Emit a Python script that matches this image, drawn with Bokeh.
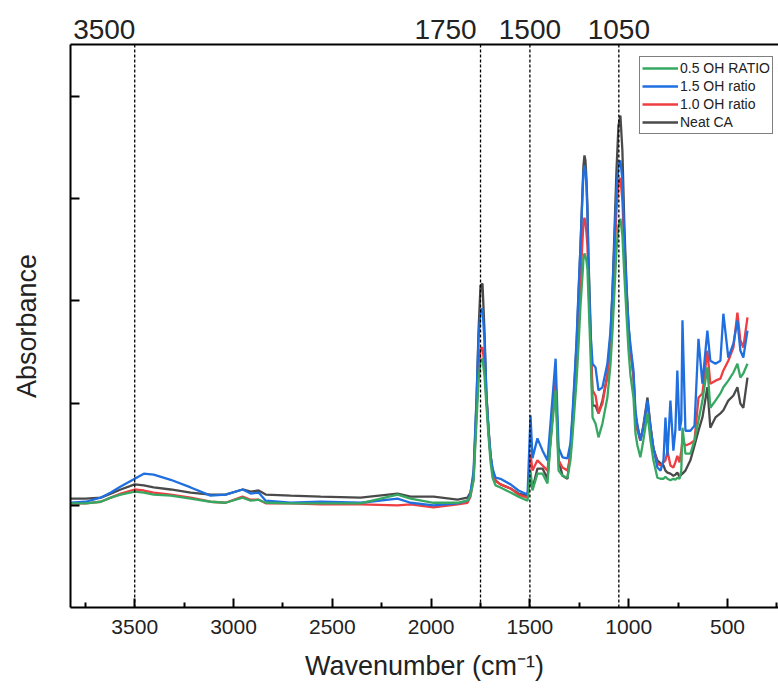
from bokeh.plotting import figure
from bokeh.models import (Range1d, LinearAxis, FixedTicker, Span, Legend, LegendItem,
                          CustomLabelingPolicy)
from bokeh.embed import file_html
from bokeh.resources import INLINE

wavenumber = [3824, 3748, 3672, 3621, 3571, 3500, 3454, 3404, 3318, 3217,
              3116, 3040, 2954, 2913, 2873, 2837, 2711, 2559, 2357, 2170,
              2104, 1988, 1866, 1816, 1801,
              1785, 1770, 1760, 1750, 1740, 1730, 1720, 1709, 1699, 1689, 1674,
              1649, 1598, 1558, 1512, 1497, 1487, 1462, 1436, 1411, 1396, 1370, 1355, 1335, 1310,
              1295, 1285, 1275, 1264, 1254, 1244, 1234, 1229, 1224, 1219, 1214, 1209, 1204, 1194, 1183,
              1168, 1153, 1133, 1108,
              1092, 1082, 1072, 1062, 1052, 1042, 1032, 1022, 1011, 1001, 991, 976, 966, 956, 941,
              926, 905, 890, 875, 855, 839, 824, 814, 804, 789, 774, 764, 754, 743, 734, 728,
              713, 688, 667, 647, 627, 602, 587, 561, 536, 521, 496, 470, 450, 435, 420, 399]

neat_ca = [0.213, 0.213, 0.215, 0.223, 0.231, 0.241, 0.239, 0.235, 0.231, 0.225,
           0.221, 0.221, 0.231, 0.227, 0.229, 0.221, 0.219, 0.217, 0.215, 0.223,
           0.217, 0.217, 0.211, 0.215, 0.225,
           0.258, 0.405, 0.542, 0.630, 0.634, 0.542, 0.415, 0.346, 0.297, 0.268, 0.249,
           0.241, 0.233, 0.223, 0.219, 0.254, 0.233, 0.272, 0.272, 0.252, 0.327, 0.444, 0.288, 0.258, 0.252,
           0.307, 0.366, 0.434, 0.513, 0.611, 0.708, 0.816, 0.865, 0.885, 0.875, 0.840, 0.787, 0.689, 0.562, 0.395,
           0.395, 0.380, 0.405, 0.454,
           0.532, 0.620, 0.738, 0.855, 0.943, 0.963, 0.894, 0.748, 0.630, 0.552, 0.503, 0.454, 0.376, 0.356, 0.327,
           0.356, 0.411, 0.356, 0.311, 0.288, 0.282, 0.278, 0.268, 0.264, 0.262, 0.258, 0.260, 0.264, 0.256, 0.260, 0.262,
           0.268, 0.288, 0.317, 0.346, 0.372, 0.431, 0.352, 0.372, 0.380, 0.386, 0.405, 0.415, 0.431, 0.399, 0.391, 0.450]

oh_1_0 = [0.204, 0.204, 0.207, 0.215, 0.223, 0.231, 0.229, 0.225, 0.221, 0.215,
          0.207, 0.205, 0.217, 0.211, 0.211, 0.204, 0.204, 0.202, 0.202, 0.200,
          0.202, 0.196, 0.202, 0.205, 0.217,
          0.252, 0.386, 0.464, 0.507, 0.509, 0.474, 0.409, 0.342, 0.294, 0.268, 0.247,
          0.241, 0.233, 0.221, 0.215, 0.301, 0.268, 0.288, 0.278, 0.268, 0.327, 0.448, 0.288, 0.274, 0.268,
          0.297, 0.350, 0.415, 0.483, 0.562, 0.640, 0.718, 0.753, 0.763, 0.753, 0.734, 0.708, 0.640, 0.532, 0.425,
          0.415, 0.380, 0.399, 0.454,
          0.523, 0.591, 0.679, 0.777, 0.832, 0.841, 0.796, 0.699, 0.611, 0.542, 0.503, 0.454, 0.366, 0.346, 0.327,
          0.352, 0.401, 0.352, 0.311, 0.282, 0.278, 0.284, 0.288, 0.307, 0.278, 0.274, 0.284, 0.297, 0.284, 0.307, 0.327,
          0.317, 0.321, 0.327, 0.411, 0.419, 0.503, 0.438, 0.444, 0.448, 0.464, 0.483, 0.509, 0.577, 0.523, 0.509, 0.568]

oh_1_5 = [0.205, 0.207, 0.215, 0.225, 0.237, 0.252, 0.262, 0.260, 0.250, 0.235,
          0.219, 0.221, 0.231, 0.223, 0.225, 0.209, 0.205, 0.207, 0.205, 0.213,
          0.205, 0.200, 0.204, 0.209, 0.223,
          0.268, 0.411, 0.528, 0.581, 0.585, 0.523, 0.415, 0.346, 0.297, 0.272, 0.254,
          0.252, 0.241, 0.229, 0.221, 0.376, 0.292, 0.331, 0.307, 0.288, 0.360, 0.487, 0.313, 0.294, 0.292,
          0.321, 0.376, 0.444, 0.523, 0.620, 0.708, 0.806, 0.851, 0.865, 0.855, 0.826, 0.771, 0.679, 0.542, 0.477,
          0.470, 0.425, 0.431, 0.477,
          0.542, 0.620, 0.718, 0.816, 0.865, 0.875, 0.836, 0.718, 0.620, 0.552, 0.513, 0.464, 0.386, 0.356, 0.327,
          0.352, 0.405, 0.352, 0.313, 0.274, 0.268, 0.288, 0.372, 0.297, 0.405, 0.307, 0.346, 0.464, 0.346, 0.366, 0.562,
          0.346, 0.346, 0.356, 0.526, 0.438, 0.542, 0.483, 0.477, 0.483, 0.575, 0.489, 0.517, 0.562, 0.503, 0.489, 0.542]

oh_0_5 = [0.204, 0.204, 0.207, 0.215, 0.221, 0.227, 0.225, 0.221, 0.219, 0.213,
          0.207, 0.205, 0.215, 0.209, 0.211, 0.205, 0.204, 0.204, 0.204, 0.221,
          0.213, 0.205, 0.205, 0.209, 0.219,
          0.249, 0.366, 0.444, 0.483, 0.487, 0.454, 0.395, 0.333, 0.284, 0.254, 0.239,
          0.235, 0.225, 0.217, 0.209, 0.268, 0.229, 0.262, 0.262, 0.243, 0.321, 0.425, 0.268, 0.258, 0.254,
          0.288, 0.333, 0.386, 0.444, 0.513, 0.591, 0.650, 0.683, 0.693, 0.687, 0.679, 0.663, 0.611, 0.503, 0.372,
          0.360, 0.333, 0.360, 0.411,
          0.477, 0.542, 0.620, 0.699, 0.748, 0.761, 0.728, 0.650, 0.571, 0.503, 0.454, 0.411, 0.341, 0.317, 0.294,
          0.327, 0.380, 0.327, 0.288, 0.254, 0.252, 0.252, 0.256, 0.252, 0.249, 0.252, 0.250, 0.254, 0.252, 0.268, 0.352,
          0.301, 0.301, 0.327, 0.366, 0.405, 0.470, 0.391, 0.405, 0.419, 0.431, 0.444, 0.460, 0.477, 0.450, 0.458, 0.477]

marker_lines = [3500, 1750, 1500, 1050]
marker_labels = ["3500", "1750", "1500", "1050"]
marker_label_pos = [3654, 1927, 1500, 1050]

bottom_ticks = [3500, 3000, 2500, 2000, 1500, 1000, 500]
bottom_minor = [3750, 3250, 2750, 2250, 1750, 1250, 750, 250]
y_ticks = [0.2, 0.4, 0.6, 0.8, 1.0]

FONT = "Liberation Sans"

p = figure(width=778, height=690, output_backend="svg", toolbar_location=None,
           x_range=Range1d(3825, 242), y_range=Range1d(0, 1.102),
           min_border_left=70, min_border_right=0, min_border_top=44,
           min_border_bottom=83)
p.outline_line_color = None
p.grid.visible = False
p.background_fill_color = "white"
p.border_fill_color = "white"

# bottom axis
xa = p.xaxis[0]
xa.ticker = FixedTicker(ticks=bottom_ticks, minor_ticks=bottom_minor)
xa.axis_label = "Wavenumber (cm\u207b\u00b9)"
xa.axis_label_text_font = FONT
xa.axis_label_text_font_style = "normal"
xa.axis_label_text_font_size = "27px"
xa.axis_label_text_color = "#222222"
xa.axis_label_standoff = 14
xa.major_label_text_font = FONT
xa.major_label_text_font_size = "21px"
xa.major_label_text_color = "#222222"
xa.major_label_standoff = 12
xa.axis_line_width = 2
xa.major_tick_in = 9
xa.major_tick_out = 0
xa.minor_tick_in = 5
xa.minor_tick_out = 0
xa.major_tick_line_width = 2
xa.minor_tick_line_width = 2

# left axis: ticks only, no tick labels
ya = p.yaxis[0]
ya.ticker = FixedTicker(ticks=y_ticks, minor_ticks=[])
ya.major_label_policy = CustomLabelingPolicy(code="return []")
ya.major_label_text_font_size = "1px"
ya.axis_label = "Absorbance"
ya.axis_label_text_font = FONT
ya.axis_label_text_font_style = "normal"
ya.axis_label_text_font_size = "27px"
ya.axis_label_text_color = "#222222"
ya.axis_label_standoff = 19
ya.axis_line_width = 2
ya.major_tick_in = 9
ya.major_tick_out = 0
ya.minor_tick_in = 0
ya.minor_tick_out = 0
ya.major_tick_line_width = 2

# top axis carrying the marker labels
top = LinearAxis(ticker=FixedTicker(ticks=marker_label_pos, minor_ticks=[]),
                 major_label_overrides={pos: lab for pos, lab in zip(marker_label_pos, marker_labels)})
top.major_label_text_font = FONT
top.major_label_text_font_size = "28px"
top.major_label_text_color = "#222222"
top.major_label_standoff = 6
top.axis_line_width = 2
top.major_tick_in = 0
top.major_tick_out = 0
top.minor_tick_in = 0
top.minor_tick_out = 0
p.add_layout(top, "above")

for loc in marker_lines:
    p.add_layout(Span(location=loc, dimension="height", line_color="black",
                      line_dash="3 2", line_width=1.3))

series = [
    ("Neat CA", neat_ca, "#4a4a4a"),
    ("1.0 OH ratio", oh_1_0, "#ef3e42"),
    ("1.5 OH ratio", oh_1_5, "#1f6fe0"),
    ("0.5 OH RATIO", oh_0_5, "#36a862"),
]
renderers = {}
for name, vals, color in series:
    renderers[name] = p.line(wavenumber, vals, line_color=color, line_width=2.3)

legend = Legend(items=[LegendItem(label="0.5 OH RATIO", renderers=[renderers["0.5 OH RATIO"]]),
                       LegendItem(label="1.5 OH ratio", renderers=[renderers["1.5 OH ratio"]]),
                       LegendItem(label="1.0 OH ratio", renderers=[renderers["1.0 OH ratio"]]),
                       LegendItem(label="Neat CA", renderers=[renderers["Neat CA"]])],
                location=(569, 473))
legend.label_text_font = FONT
legend.label_text_font_size = "14px"
legend.label_text_color = "#222222"
legend.label_height = 18
legend.glyph_height = 18
legend.glyph_width = 36
legend.label_standoff = 2
legend.spacing = 0
legend.padding = 2
legend.margin = 0
legend.border_line_color = "black"
legend.border_line_width = 1
legend.background_fill_alpha = 1
p.add_layout(legend, "center")

open("out.html", "w").write(file_html(p, INLINE))
